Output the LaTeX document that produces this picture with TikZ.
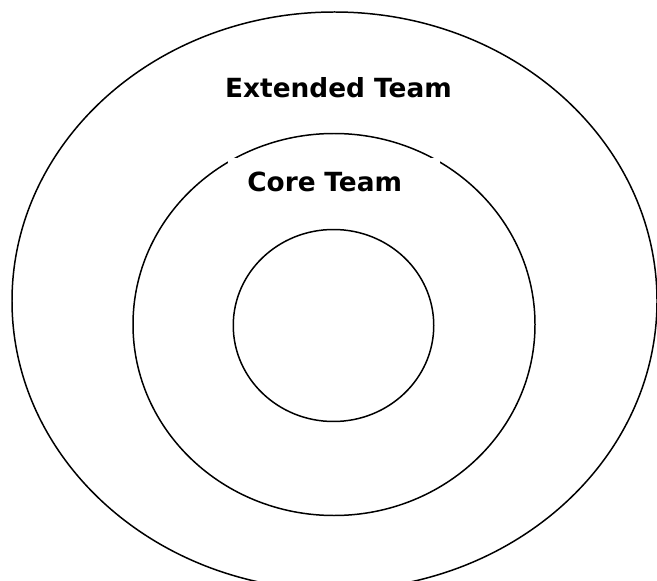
\documentclass[tikz,border=0pt]{standalone}
\usepackage{fontspec}
\newfontfamily\teamfont{DejaVu Sans}
\usetikzlibrary{shapes.geometric}

\begin{document}
\begin{tikzpicture}

\useasboundingbox (0,0) rectangle (13.14,11.6);
\clip (0,0) rectangle (13.14,11.6);

% Outer ring
\node[draw,
    ellipse,
    line width=0.85pt,
    minimum width=12.9cm,
    minimum height=11.56cm] (extended) at (6.69,5.58){};

% Middle ring
\node[draw,
    ellipse,
    line width=0.85pt,
    minimum width=8.04cm,
    minimum height=7.64cm] (core) at (6.68,5.11){};

% Label box for the middle ring (white, so it nicks the ring)
\node[fill=white,
    anchor=north west,
    text width=3.48cm,
    align=left,
    inner xsep=0.38cm,
    inner ysep=0.28cm,
    font=\teamfont\bfseries\fontsize{15}{18}\selectfont] (corelabel) at (4.56,8.44) {Core Team};

% Inner ring
\node[draw,
    ellipse,
    line width=0.85pt,
    minimum width=4.01cm,
    minimum height=3.84cm] (inner) at (6.67,5.09){};

% Outer ring label
\node[font=\teamfont\bfseries\fontsize{15}{18}\selectfont] (extendedlabel) at (6.77,9.84) {Extended Team};

\end{tikzpicture}
\end{document}
